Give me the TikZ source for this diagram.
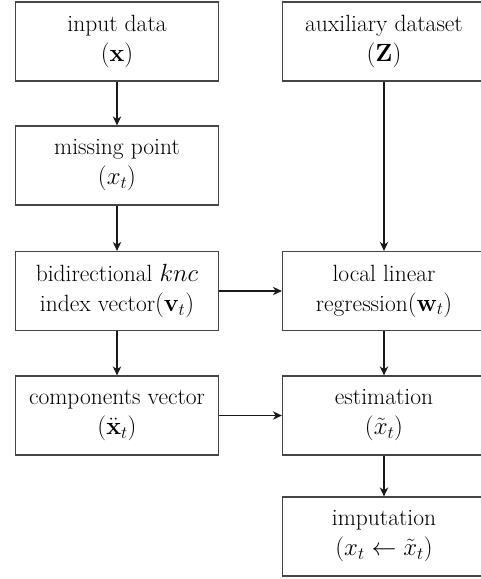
\documentclass[tikz,border=0pt]{standalone}
\usetikzlibrary{arrows.meta}
\definecolor{linegray}{HTML}{454545}
\begin{document}
\begin{tikzpicture}[x=1pt,y=-1pt,
  box/.style={draw=linegray, line width=1.3pt, minimum width=203pt, minimum height=79pt,
    align=center, inner sep=0pt, font=\fontsize{23.5}{30}\selectfont},
  arr/.style={-{Stealth[length=9pt,width=8.5pt]}, line width=1.1pt, draw=black!90}]
\useasboundingbox (0,0) rectangle (481,579);
\clip (0,0) rectangle (481,579);
\node[box] (in)   at (117,41.5)   {input data\\$(\mathbf{x})$};
\node[box] (miss) at (117,165.5)  {missing point\\$(x_t)$};
\node[box] (bid)  at (117,291)    {bidirectional $knc$\\index vector$(\mathbf{v}_t)$};
\node[box] (comp) at (117,415.5)  {components vector\\$(\ddot{\mathbf{x}}_t)$};
\node[box] (aux)  at (384,41.5)   {auxiliary dataset\\$(\mathbf{Z})$};
\node[box] (llr)  at (384,291)    {local linear\\regression$(\mathbf{w}_t)$};
\node[box] (est)  at (384,415.5)  {estimation\\$(\tilde{x}_t)$};
\node[box] (imp)  at (384,536.5)  {imputation\\$(x_t \leftarrow \tilde{x}_t)$};
\draw[arr] (in) -- (miss);
\draw[arr] (miss) -- (bid);
\draw[arr] (bid) -- (comp);
\draw[arr] (aux) -- (llr);
\draw[arr] (llr) -- (est);
\draw[arr] (est) -- (imp);
\draw[arr] (bid) -- (llr);
\draw[arr] (comp) -- (est);
\end{tikzpicture}
\end{document}
